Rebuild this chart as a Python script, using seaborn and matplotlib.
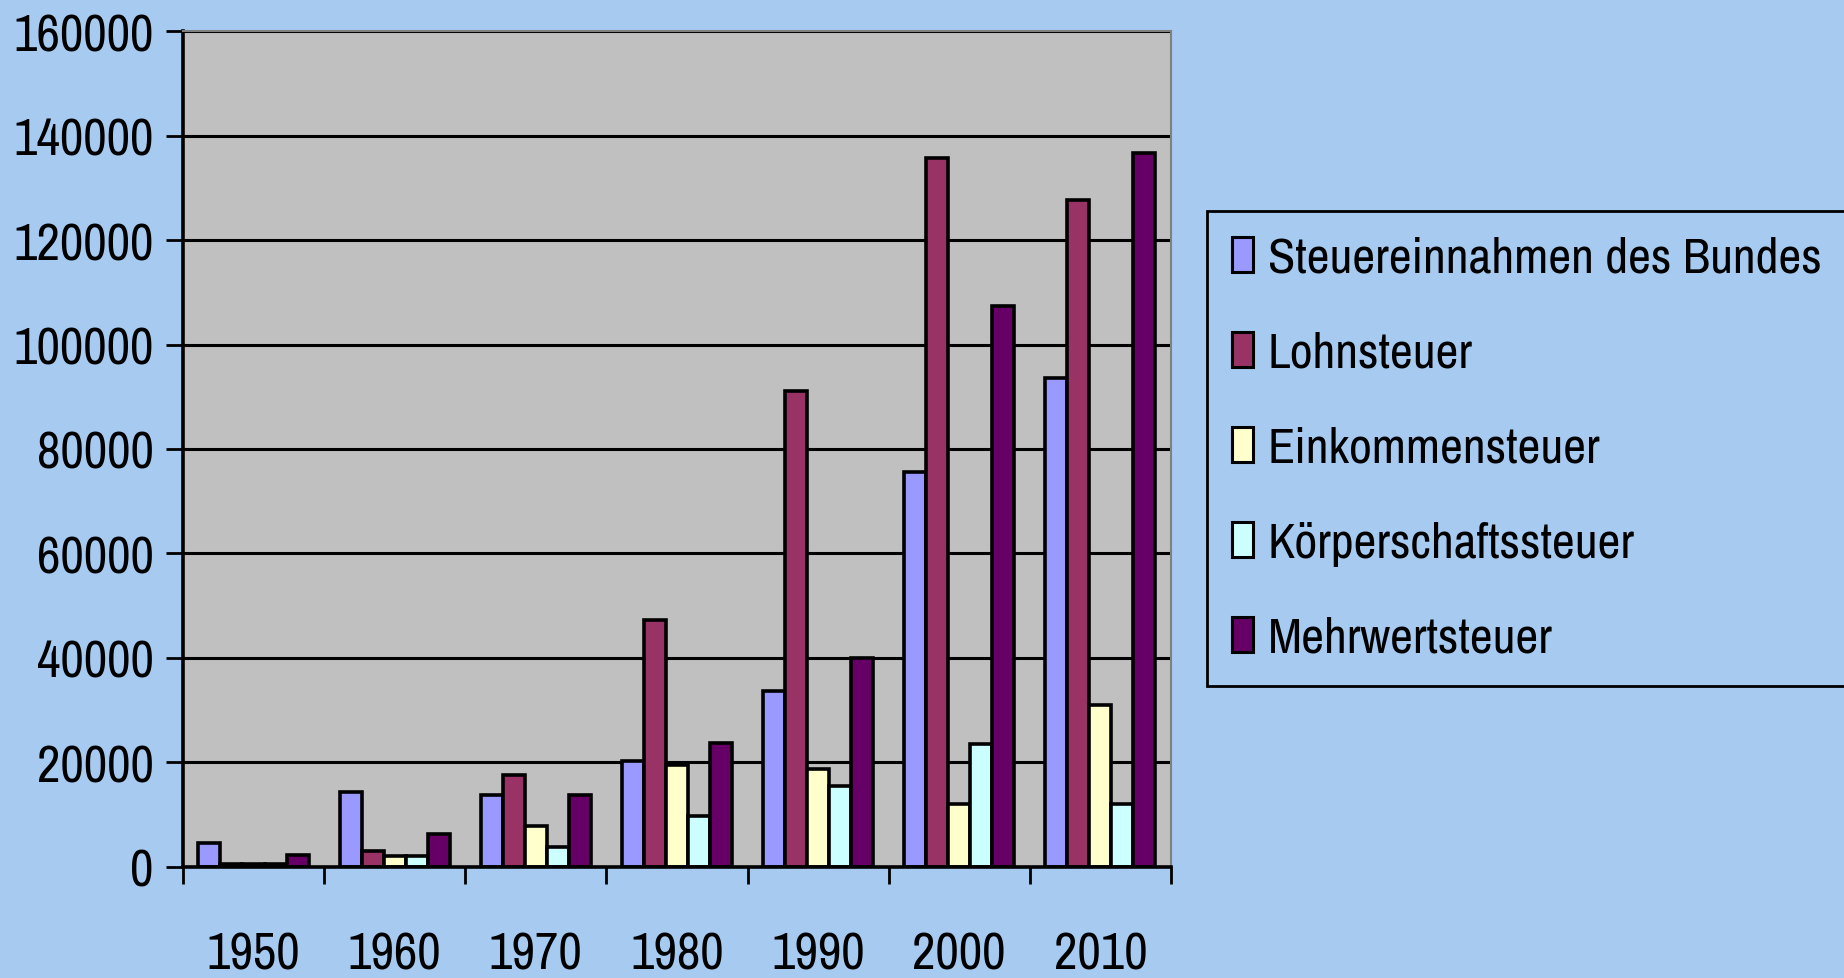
import numpy as np
import pandas as pd
import matplotlib
matplotlib.use("Agg")
import matplotlib.pyplot as plt
import seaborn as sns

# Steuereinnahmen (Mio.)
years = ["1950", "1960", "1970", "1980", "1990", "2000", "2010"]
bund = [4600, 14400, 13700, 20300, 33600, 75600, 93600]
lohn = [650, 3100, 17600, 47200, 91100, 135700, 127600]
eink = [650, 2100, 7800, 19600, 18700, 12000, 31000]
koerp = [650, 2100, 3800, 9800, 15500, 23600, 12100]
mwst = [2200, 6300, 13700, 23700, 40000, 107300, 136600]

series = ["Steuereinnahmen des Bundes", "Lohnsteuer", "Einkommensteuer",
          "Körperschaftssteuer", "Mehrwertsteuer"]
colors = ["#9999FF", "#993366", "#FFFFCC", "#CCFFFF", "#660066"]

df = pd.DataFrame({
    "Jahr": years * 5,
    "Wert": bund + lohn + eink + koerp + mwst,
    "Steuer": np.repeat(series, len(years)),
})

plt.rcParams["font.family"] = ["Archivo Narrow", "Liberation Sans", "DejaVu Sans"]

bg = "#A6CAF0"
fig = plt.figure(figsize=(18.44, 9.79), dpi=100, facecolor=bg)
ax = fig.add_axes([0.0992, 0.1134, 0.5358, 0.8539])
ax.set_facecolor("#C0C0C0")

sns.barplot(data=df, x="Jahr", y="Wert", hue="Steuer", hue_order=series,
            palette=colors, width=0.78, edgecolor="black", linewidth=2.6,
            saturation=1, gap=0, ax=ax, legend=True)

ax.set_ylim(0, 160000)
ax.set_xlim(-0.5, len(years) - 0.5)
ax.set_yticks(np.arange(0, 160001, 20000))
ax.yaxis.grid(True, color="black", linewidth=2.2)
ax.set_axisbelow(True)
ax.tick_params(axis="y", labelsize=37, length=12, width=2, pad=9, colors="black")

# year labels centred, tick marks on the group boundaries
ax.set_xticks(np.arange(-0.5, len(years)), labels=[""] * (len(years) + 1))
ax.set_xticks(np.arange(len(years)), labels=years, minor=True)
ax.tick_params(axis="x", which="major", length=12, width=2)
ax.tick_params(axis="x", which="minor", length=0, labelsize=37, pad=46)
ax.set_xlabel("")
ax.set_ylabel("")

for s in ["left", "bottom"]:
    ax.spines[s].set_color("black")
    ax.spines[s].set_linewidth(2.6)
for s in ["top", "right"]:
    ax.spines[s].set_color("#808080")
    ax.spines[s].set_linewidth(1.5)

handles, labels = ax.get_legend_handles_labels()
ax.get_legend().remove()
leg = fig.legend(handles, labels, loc="upper left", bbox_to_anchor=(0.6545, 0.7835),
                 fontsize=36, frameon=True, fancybox=False, edgecolor="black",
                 facecolor=bg, framealpha=1, handlelength=0.42, handleheight=0.72,
                 handletextpad=0.3, labelspacing=1.0, borderpad=0.5, borderaxespad=0)
leg.get_frame().set_linewidth(2)
for h in leg.legend_handles:
    h.set_edgecolor("black")
    h.set_linewidth(2.2)

fig.savefig("out.png", dpi=100, facecolor=bg)
